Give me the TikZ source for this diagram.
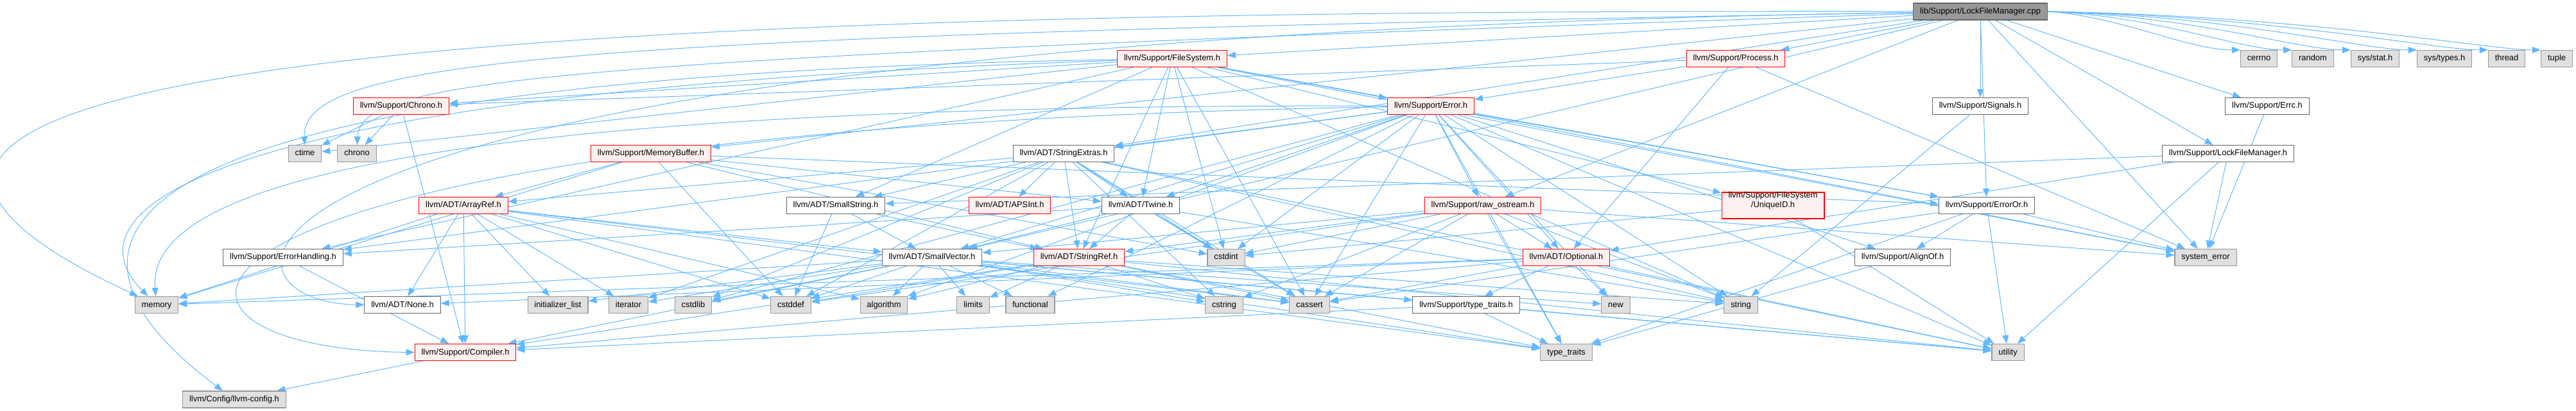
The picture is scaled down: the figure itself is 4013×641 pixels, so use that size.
\documentclass[tikz,border=0pt]{standalone}
\usepackage{fontspec}
\newfontfamily\doxfont{Liberation Sans}
\usetikzlibrary{arrows.meta}
\definecolor{edgeblue}{HTML}{63B8FF}
\definecolor{redfill}{HTML}{FFF0F0}
\definecolor{grayfill}{HTML}{E0E0E0}
\definecolor{graybord}{HTML}{999999}
\definecolor{darkbord}{HTML}{666666}
\definecolor{rootfill}{HTML}{999999}
\definecolor{redbord}{HTML}{FF0000}
\pgfdeclarelayer{bg}
\pgfsetlayers{bg,main}
\tikzset{
  base/.style={draw, line width=0.55pt, font=\doxfont\fontsize{6.45pt}{7.6pt}\selectfont,
    inner xsep=5.2pt, inner ysep=0pt, minimum height=13pt, text height=4.8pt, text depth=1.3pt},
  sysn/.style={base, fill=grayfill, draw=graybord},
  redn/.style={base, fill=redfill, draw=redbord},
  whn/.style={base, fill=white, draw=darkbord},
  rootn/.style={base, fill=rootfill, draw=darkbord},
  dep/.style={draw=edgeblue, line width=0.5pt, -{Triangle[length=6.5pt,width=5pt]}},
}
\begin{document}
\begin{tikzpicture}[x=0.5pt,y=-0.5pt]
\useasboundingbox (0,0) rectangle (4013,641);
% rank 0
\node[rootn] (root) at (3085,18) {lib/Support/LockFileManager.cpp};
% rank 1
\node[redn] (fs) at (1826,91.5) {llvm/Support/FileSystem.h};
\node[redn] (proc) at (2704,91.5) {llvm/Support/Process.h};
\node[sysn] (cerrno) at (3519,91.5) {cerrno};
\node[sysn] (random) at (3603,91.5) {random};
\node[sysn] (sysstat) at (3700,91.5) {sys/stat.h};
\node[sysn] (systypes) at (3808,91.5) {sys/types.h};
\node[sysn] (thread) at (3905,91.5) {thread};
\node[sysn] (tuple) at (3983,91.5) {tuple};
% rank 2
\node[redn] (chronoh) at (625,165.5) {llvm/Support/Chrono.h};
\node[redn] (error) at (2229,165.5) {llvm/Support/Error.h};
\node[whn] (signals) at (3085,165.5) {llvm/Support/Signals.h};
\node[whn] (errc) at (3532,165.5) {llvm/Support/Errc.h};
% rank 3
\node[sysn] (ctime) at (475,239.5) {ctime};
\node[sysn] (chrono) at (556,239.5) {chrono};
\node[redn] (membuf) at (1014,239.5) {llvm/Support/MemoryBuffer.h};
\node[whn] (strext) at (1657,239.5) {llvm/ADT/StringExtras.h};
\node[whn] (lfmh) at (3471,239.5) {llvm/Support/LockFileManager.h};
% rank 4
\node[redn] (arrayref) at (722,320.5) {llvm/ADT/ArrayRef.h};
\node[whn] (smallstr) at (1302,320.5) {llvm/ADT/SmallString.h};
\node[redn] (apsint) at (1573,320.5) {llvm/ADT/APSInt.h};
\node[whn] (twine) at (1777,320.5) {llvm/ADT/Twine.h};
\node[redn] (rawos) at (2310,320.5) {llvm/Support/raw\_ostream.h};
\node[redn, minimum height=20.5pt, align=center] (uniqueid) at (2762,320.5) {llvm/Support/FileSystem\\/UniqueID.h};
\node[whn] (erroror) at (3095,320.5) {llvm/Support/ErrorOr.h};
% rank 5
\node[whn] (errhand) at (441,401.5) {llvm/Support/ErrorHandling.h};
\node[whn] (smallvec) at (1452,401.5) {llvm/ADT/SmallVector.h};
\node[redn] (strref) at (1681,401.5) {llvm/ADT/StringRef.h};
\node[sysn] (cstdint) at (1910,401.5) {cstdint};
\node[redn] (optional) at (2440,401.5) {llvm/ADT/Optional.h};
\node[whn] (alignof) at (2964,401.5) {llvm/Support/AlignOf.h};
\node[sysn] (syserr) at (3436,401.5) {system\_error};
% rank 6
\node[sysn] (memory) at (244,475.5) {memory};
\node[whn] (none) at (627,475.5) {llvm/ADT/None.h};
\node[sysn] (initlist) at (869,475.5) {initializer\_list};
\node[sysn] (iterator) at (979,475.5) {iterator};
\node[sysn] (cstdlib) at (1080,475.5) {cstdlib};
\node[sysn] (cstddef) at (1232,475.5) {cstddef};
\node[sysn] (algorithm) at (1377,475.5) {algorithm};
\node[sysn] (limits) at (1516,475.5) {limits};
\node[sysn] (functional) at (1605,475.5) {functional};
\node[sysn] (cstring) at (1907,475.5) {cstring};
\node[sysn] (cassert) at (2040,475.5) {cassert};
\node[whn] (typetraitsh) at (2284,475.5) {llvm/Support/type\_traits.h};
\node[sysn] (new) at (2517,475.5) {new};
\node[sysn] (string) at (2712,475.5) {string};
% rank 7
\node[redn] (compiler) at (725,549.5) {llvm/Support/Compiler.h};
\node[sysn] (typetraits) at (2440,549.5) {type\_traits};
\node[sysn] (utility) at (3128,549.5) {utility};
% rank 8
\node[sysn] (llvmconfig) at (365,623) {llvm/Config/llvm-config.h};

\begin{pgfonlayer}{bg}
\foreach \s/\t in {
 root/lfmh, root/smallvec, root/strext, root/errc, root/erroror, root/fs, root/membuf,
 root/proc, root/signals, root/rawos, root/syserr,
 fs/smallstr, fs/strref, fs/twine, fs/chronoh, fs/error, fs/errhand, fs/erroror,
 fs/uniqueid, fs/cassert, fs/cstdint, fs/ctime, fs/string, fs/syserr,
 proc/optional, proc/chronoh, proc/error, proc/syserr,
 signals/string, errc/syserr,
 lfmh/optional, lfmh/smallstr, lfmh/syserr, lfmh/utility,
 chronoh/compiler, chronoh/chrono, chronoh/ctime,
 error/optional, error/smallvec, error/strext, error/twine, error/alignof, error/errhand,
 error/erroror, error/rawos, error/algorithm, error/cassert, error/cstdint, error/cstdlib,
 error/functional, error/new, error/string, error/syserr, error/typetraits, error/utility,
 membuf/arrayref, membuf/strref, membuf/twine, membuf/erroror, membuf/cstddef,
 membuf/cstdint, membuf/memory,
 strext/apsint, strext/arrayref, strext/smallstr, strext/strref, strext/twine,
 strext/cassert, strext/cstddef, strext/cstdint, strext/cstdlib, strext/cstring,
 strext/iterator, strext/string, strext/utility,
 arrayref/none, arrayref/smallvec, arrayref/compiler, arrayref/algorithm, arrayref/cassert,
 arrayref/cstddef, arrayref/initlist, arrayref/iterator, arrayref/memory, arrayref/typetraits,
 smallstr/smallvec, smallstr/strref, smallstr/cstddef,
 twine/smallvec, twine/strref, twine/errhand, twine/cassert, twine/cstdint, twine/string,
 rawos/smallvec, rawos/strref, rawos/optional, rawos/cassert, rawos/cstddef, rawos/cstdint,
 rawos/cstring, rawos/string, rawos/syserr, rawos/typetraits,
 uniqueid/cstdint, uniqueid/utility,
 erroror/alignof, erroror/cassert, erroror/syserr, erroror/typetraits, erroror/utility,
 errhand/compiler,
 smallvec/compiler, smallvec/typetraitsh, smallvec/algorithm, smallvec/cassert,
 smallvec/cstddef, smallvec/cstdlib, smallvec/cstring, smallvec/functional,
 smallvec/initlist, smallvec/iterator, smallvec/limits, smallvec/memory, smallvec/new,
 smallvec/typetraits, smallvec/utility,
 strref/compiler, strref/algorithm, strref/cassert, strref/cstddef, strref/cstring,
 strref/limits, strref/string, strref/typetraits, strref/utility,
 optional/none, optional/compiler, optional/typetraitsh, optional/cassert, optional/memory,
 optional/new, optional/utility,
 alignof/typetraits,
 typetraitsh/compiler, typetraitsh/typetraits, typetraitsh/utility,
 compiler/llvmconfig}
 {\draw[dep] (\s) -- (\t);}
% root to the system headers on its right: curves entering from the left
\foreach \t/\c in {cerrno/3300, random/3360, sysstat/3420, systypes/3480, thread/3540, tuple/3600}
 {\draw[dep] (root.east) .. controls (\c,25) and ([xshift=-40]\t.north west) .. (\t.north west);}
% long curved edges round the left
\draw[dep] (root) .. controls (1200,15) and (-650,60) .. (memory);
\draw[dep] (root) .. controls (900,55) and (470,90) .. (ctime);
\draw[dep] (root) .. controls (900,90) and (560,120) .. (chrono);
\draw[dep] (root) .. controls (250,60) and (290,470) .. (none.west);
\draw[dep] (fs) .. controls (100,120) and (40,380) .. (llvmconfig);
\draw[dep] (fs) .. controls (350,140) and (90,320) .. (memory);
\draw[dep] (error) .. controls (500,160) and (230,320) .. (memory);
\draw[dep] (error) .. controls (150,200) and (150,545) .. (compiler.west);
\end{pgfonlayer}
\end{tikzpicture}
\end{document}
